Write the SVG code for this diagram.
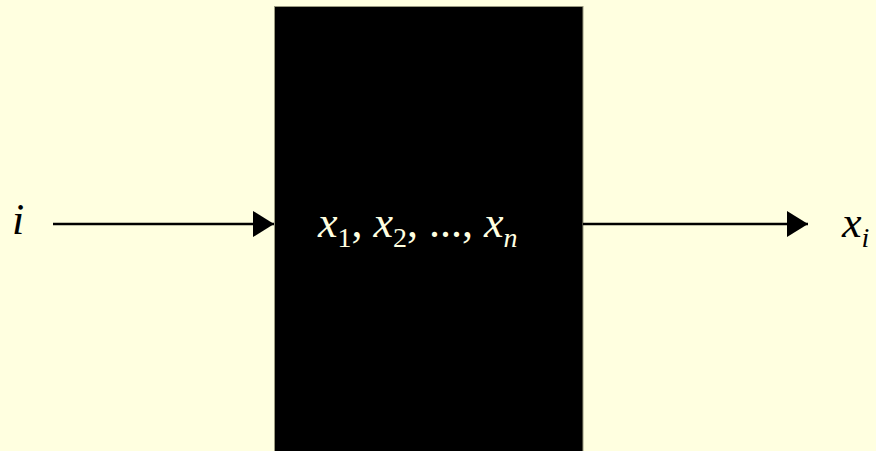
<svg xmlns="http://www.w3.org/2000/svg" width="876" height="451" viewBox="0 0 876 451">
<defs>
<marker id="ah" markerWidth="22" markerHeight="26" refX="21" refY="13" markerUnits="userSpaceOnUse" orient="auto">
<path d="M0,0 L21,13 L0,26 Z" fill="#000"/>
</marker>
</defs>
<rect x="0" y="0" width="876" height="451" fill="#FFFFE0"/>
<g id="box" font-family="Times New Roman, Liberation Serif, serif" font-style="italic" font-size="44">
<rect x="274.5" y="6.5" width="308.5" height="450" fill="#000" stroke="#9a9a80" stroke-width="1"/>
<text x="318" y="237" fill="#FFFFE0" style="font-family:'Times New Roman','Liberation Serif',serif;font-style:italic">x<tspan font-size="28" font-style="normal" dy="10">1</tspan><tspan font-style="normal" dy="-10">, </tspan>x<tspan font-size="28" font-style="normal" dy="10">2</tspan><tspan font-style="normal" dy="-10">, ..., </tspan>x<tspan font-size="28" dy="10">n</tspan></text>
</g>
<g id="input" font-family="Times New Roman, Liberation Serif, serif" font-style="italic" font-size="44">
<text x="12" y="234" fill="#000" style="font-family:'Times New Roman','Liberation Serif',serif;font-style:italic">i</text>
</g>
<g id="output" font-family="Times New Roman, Liberation Serif, serif" font-style="italic" font-size="44">
<text x="842" y="237" fill="#000" style="font-family:'Times New Roman','Liberation Serif',serif;font-style:italic">x<tspan font-size="28" dy="10">i</tspan></text>
</g>
<g id="connectors" stroke="#000" stroke-width="2.5" fill="none">
<line x1="53" y1="224" x2="274" y2="224" marker-end="url(#ah)"/>
<line x1="583" y1="224" x2="808" y2="224" marker-end="url(#ah)"/>
</g>
</svg>
